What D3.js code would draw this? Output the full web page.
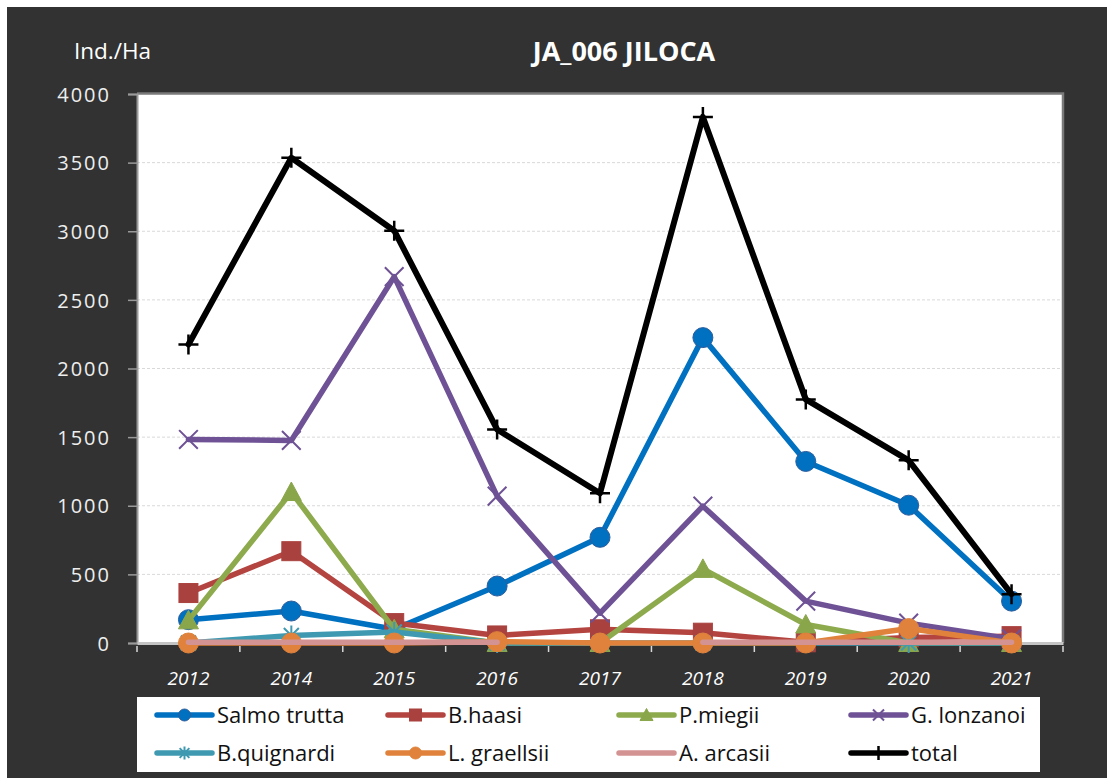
<!DOCTYPE html>
<html><head><meta charset="utf-8">
<script src="https://cdn.jsdelivr.net/npm/d3@7"></script>
<style>html,body{margin:0;padding:0;background:#fff;}svg{display:block;}</style>
</head><body>
<script>
// ---- data ----
const years = ["2012","2014","2015","2016","2017","2018","2019","2020","2021"];
const salmoTrutta = [170, 233, 100, 415, 770, 2225, 1323, 1004, 305];
const bHaasi      = [364, 669, 145, 55, 100, 75, 5, 40, 50];
const pMiegii     = [165, 1100, 100, 0, 0, 540, 135, 0, 0];
const gLonzanoi   = [1483, 1476, 2669, 1070, 218, 997, 305, 145, 30];
const bQuignardi  = [0, 55, 80, 0, 0, 0, 0, 0, 0];
const lGraellsii  = [0, 0, 0, 10, 0, 0, 0, 105, 0];
const aArcasii    = [5, 5, 5, 5, null, 5, 5, 5, 5];
const total       = [2175, 3535, 3004, 1556, 1091, 3833, 1775, 1331, 356];
const yTicks = [0, 500, 1000, 1500, 2000, 2500, 3000, 3500, 4000];
const seriesNames = ["Salmo trutta","B.haasi","P.miegii","G. lonzanoi","B.quignardi","L. graellsii","A. arcasii","total"];

const styles = [
  {line:"#0070C0", fill:"#0070C0", stroke:"#2E5E9C", marker:"circle"},
  {line:"#B3443F", fill:"#A9423F", stroke:"#A9423F", marker:"square"},
  {line:"#8DAA4D", fill:"#8AA64B", stroke:"#8AA64B", marker:"triangle"},
  {line:"#6E5295", fill:"none",    stroke:"#6E5295", marker:"x"},
  {line:"#3F9AB1", fill:"none",    stroke:"#3F9AB1", marker:"star"},
  {line:"#E0823B", fill:"#E0823B", stroke:"#E0823B", marker:"circle"},
  {line:"#D39392", fill:"none",    stroke:"none",    marker:"none"},
  {line:"#000000", fill:"none",    stroke:"#000000", marker:"plus"}
];
const seriesData = [salmoTrutta,bHaasi,pMiegii,gLonzanoi,bQuignardi,lGraellsii,aArcasii,total];

const W = 1107, H = 778;
const svg = d3.select("body").append("svg").attr("width",W).attr("height",H);
svg.append("rect").attr("width",W).attr("height",H).attr("fill","#fff");
svg.append("rect").attr("x",7).attr("y",7).attr("width",W-7).attr("height",H-7).attr("fill","#323232");

const x0 = 137, x1 = 1063;
const x = d3.scaleBand().domain(years).range([x0,x1]).padding(0);
const y = d3.scaleLinear().domain([0,4000]).range([643,94]);
const cx = d => x(d) + x.bandwidth()/2;

// plot background
svg.append("rect").attr("x",x0).attr("y",y(4000)-1).attr("width",x1-x0).attr("height",y(0)-y(4000)+1).attr("fill","#fff");

// gridlines
svg.append("g").selectAll("line").data(yTicks.filter(t=>t>0&&t<4000)).join("line")
  .attr("x1",x0).attr("x2",x1).attr("y1",d=>y(d)).attr("y2",d=>y(d))
  .attr("stroke","#d9d9d9").attr("stroke-width",1).attr("stroke-dasharray","3,2");

// frame top/right
svg.append("path").attr("d",`M${x0},${y(4000)-0.5}H${x1}V${y(0)}`).attr("fill","none").attr("stroke","#7a7a7a").attr("stroke-width",2.5);

// y axis
const yAxis = d3.axisLeft(y).tickValues(yTicks).tickSize(9).tickPadding(17).tickFormat(d3.format("d"));
const gy = svg.append("g").attr("transform",`translate(${x0},0)`).call(yAxis);
gy.select(".domain").attr("stroke","#9a9a9a").attr("stroke-width",2);
gy.selectAll(".tick line").attr("stroke","#9a9a9a").attr("stroke-width",1.5);
gy.selectAll("text").attr("fill","#eeeeee").attr("font-family","'Open Sans'").attr("font-size",20).attr("letter-spacing",2).attr("dy","0.36em");

// x axis
const xAxis = d3.axisBottom(x).tickSize(0).tickPadding(29);
const gx = svg.append("g").attr("transform",`translate(0,${y(0)})`).call(xAxis);
gx.select(".domain").attr("stroke","#c4c4c4").attr("stroke-width",3);
gx.selectAll("text").attr("fill","#ffffff").attr("font-family","'Open Sans'").attr("font-style","italic").attr("font-size",19).attr("dy","0.71em");
// tick marks at band boundaries
const bounds = years.map(d=>x(d)).concat([x1]);
svg.append("g").selectAll("line").data(bounds).join("line")
  .attr("x1",d=>d).attr("x2",d=>d).attr("y1",y(0)+3).attr("y2",y(0)+9)
  .attr("stroke","#d8d8d8").attr("stroke-width",1.5);

// markers
function drawMarker(g, type, s, px, py, size){
  const h = size/2;
  if(type==="circle"){
    g.append("circle").attr("cx",px).attr("cy",py).attr("r",h).attr("fill",s.fill).attr("stroke",s.stroke).attr("stroke-width",1);
  } else if(type==="square"){
    g.append("rect").attr("x",px-h).attr("y",py-h).attr("width",size).attr("height",size).attr("fill",s.fill).attr("stroke",s.stroke);
  } else if(type==="triangle"){
    g.append("path").attr("d",`M${px},${py-h}L${px+h},${py+h*0.85}L${px-h},${py+h*0.85}Z`).attr("fill",s.fill).attr("stroke",s.stroke);
  } else if(type==="x"){
    const k=h*0.85;
    g.append("path").attr("d",`M${px-k},${py-k}L${px+k},${py+k}M${px+k},${py-k}L${px-k},${py+k}`).attr("stroke",s.stroke).attr("stroke-width",2);
  } else if(type==="star"){
    const k=h*0.75;
    g.append("path").attr("d",`M${px-k},${py-k}L${px+k},${py+k}M${px+k},${py-k}L${px-k},${py+k}M${px},${py-h}L${px},${py+h}`).attr("stroke",s.stroke).attr("stroke-width",2);
  } else if(type==="plus"){
    g.append("path").attr("d",`M${px-h},${py}L${px+h},${py}M${px},${py-h}L${px},${py+h}`).attr("stroke",s.stroke).attr("stroke-width",2.5);
  }
}

const line = d3.line().defined(d=>d.v!==null).x(d=>cx(d.year)).y(d=>y(d.v));
seriesData.forEach((vals,i)=>{
  const s = styles[i];
  const pts = years.map((yr,j)=>({year:yr, v:vals[j]}));
  const g = svg.append("g");
  g.append("path").attr("d",line(pts)).attr("fill","none").attr("stroke",s.line)
    .attr("stroke-width", i===7?6:5.5).attr("stroke-linejoin","round").attr("stroke-linecap","round");
  const msize = {circle:20, square:19, triangle:20, x:22, star:20, plus:20, none:0}[s.marker];
  pts.filter(p=>p.v!==null).forEach(p=>drawMarker(g, s.marker, s, cx(p.year), y(p.v), msize));
});

// titles
svg.append("text").attr("x",624).attr("y",61).attr("text-anchor","middle").attr("fill","#fff")
  .attr("font-family","'Open Sans'").attr("font-weight","bold").attr("font-size",27).text("JA_006 JILOCA");
svg.append("text").attr("x",74).attr("y",59).attr("fill","#fff")
  .attr("font-family","'Open Sans'").attr("font-size",22.5).text("Ind./Ha");

// legend
svg.append("rect").attr("x",137).attr("y",697).attr("width",903).attr("height",75).attr("fill","#fff");
const colX = [157, 388, 619, 851], rowY = [715, 753];
seriesNames.forEach((name,i)=>{
  const s = styles[i];
  const lx = colX[i%4], ly = rowY[Math.floor(i/4)];
  const g = svg.append("g");
  g.append("line").attr("x1",lx).attr("x2",lx+55).attr("y1",ly).attr("y2",ly).attr("stroke",s.line).attr("stroke-width",5.5).attr("stroke-linecap","round");
  const msize = {circle:12, square:12, triangle:13, x:13, star:13, plus:14, none:0}[s.marker];
  drawMarker(g, s.marker, s, lx+27.5, ly, msize);
  g.append("text").attr("x",lx+60).attr("y",ly).attr("dy","0.36em").attr("fill","#111")
    .attr("font-family","'Open Sans'").attr("font-size",22).text(name);
});
</script>
</body></html>
